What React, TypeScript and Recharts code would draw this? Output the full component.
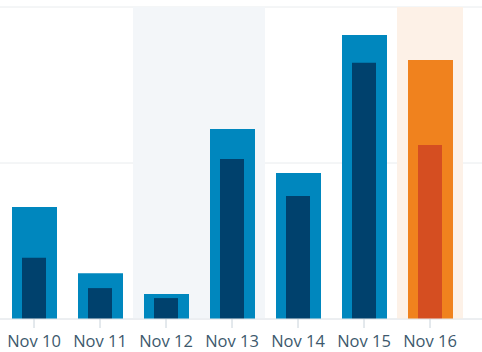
import { BarChart, Bar, XAxis, YAxis, CartesianGrid, ReferenceArea, Cell } from "recharts";

const days = ["Nov 10", "Nov 11", "Nov 12", "Nov 13", "Nov 14", "Nov 15", "Nov 16"];
const views = [35.9, 14.7, 8.0, 60.9, 46.8, 91.0, 83.0];
const visitors = [19.6, 9.9, 6.7, 51.3, 39.4, 82.1, 55.8];
const yTicks = [0, 50, 100];

const data = days.map((day, i) => ({ day, views: views[i], visitors: visitors[i] }));
const today = days.length - 1;

export default function App() {
  return (
    <div style={{ position: "absolute", left: 0, top: 0 }}>
      <BarChart width={482} height={352} data={data} margin={{ top: 7, right: 0, left: 0, bottom: 0 }}>
        <ReferenceArea xAxisId="a" x1="Nov 12" x2="Nov 13" fill="#f3f6f9" fillOpacity={1} stroke="none" />
        <ReferenceArea xAxisId="a" x1="Nov 16" x2="Nov 16" fill="#fdf1e7" fillOpacity={1} stroke="none" />
        <CartesianGrid vertical={false} stroke="#e9ecee" />
        <XAxis
          xAxisId="a"
          dataKey="day"
          height={33}
          padding={{ left: 1, right: 19 }}
          axisLine={{ stroke: "#e4e8eb" }}
          tickLine={{ stroke: "#c8d2da" }}
          tickSize={9}
          tickMargin={7}
          tick={{ fill: "#3d596d", fontSize: 16.5, fontFamily: "Open Sans" }}
        />
        <XAxis xAxisId="b" dataKey="day" hide padding={{ left: 1, right: 19 }} />
        <YAxis hide domain={[0, 100]} ticks={yTicks} />
        <Bar xAxisId="a" dataKey="views" barSize={45} isAnimationActive={false}>
          {data.map((d, i) => (
            <Cell key={d.day} fill={i === today ? "#f0821e" : "#0087be"} />
          ))}
        </Bar>
        <Bar xAxisId="b" dataKey="visitors" barSize={24} isAnimationActive={false}>
          {data.map((d, i) => (
            <Cell key={d.day} fill={i === today ? "#d54e21" : "#00416d"} />
          ))}
        </Bar>
      </BarChart>
    </div>
  );
}
